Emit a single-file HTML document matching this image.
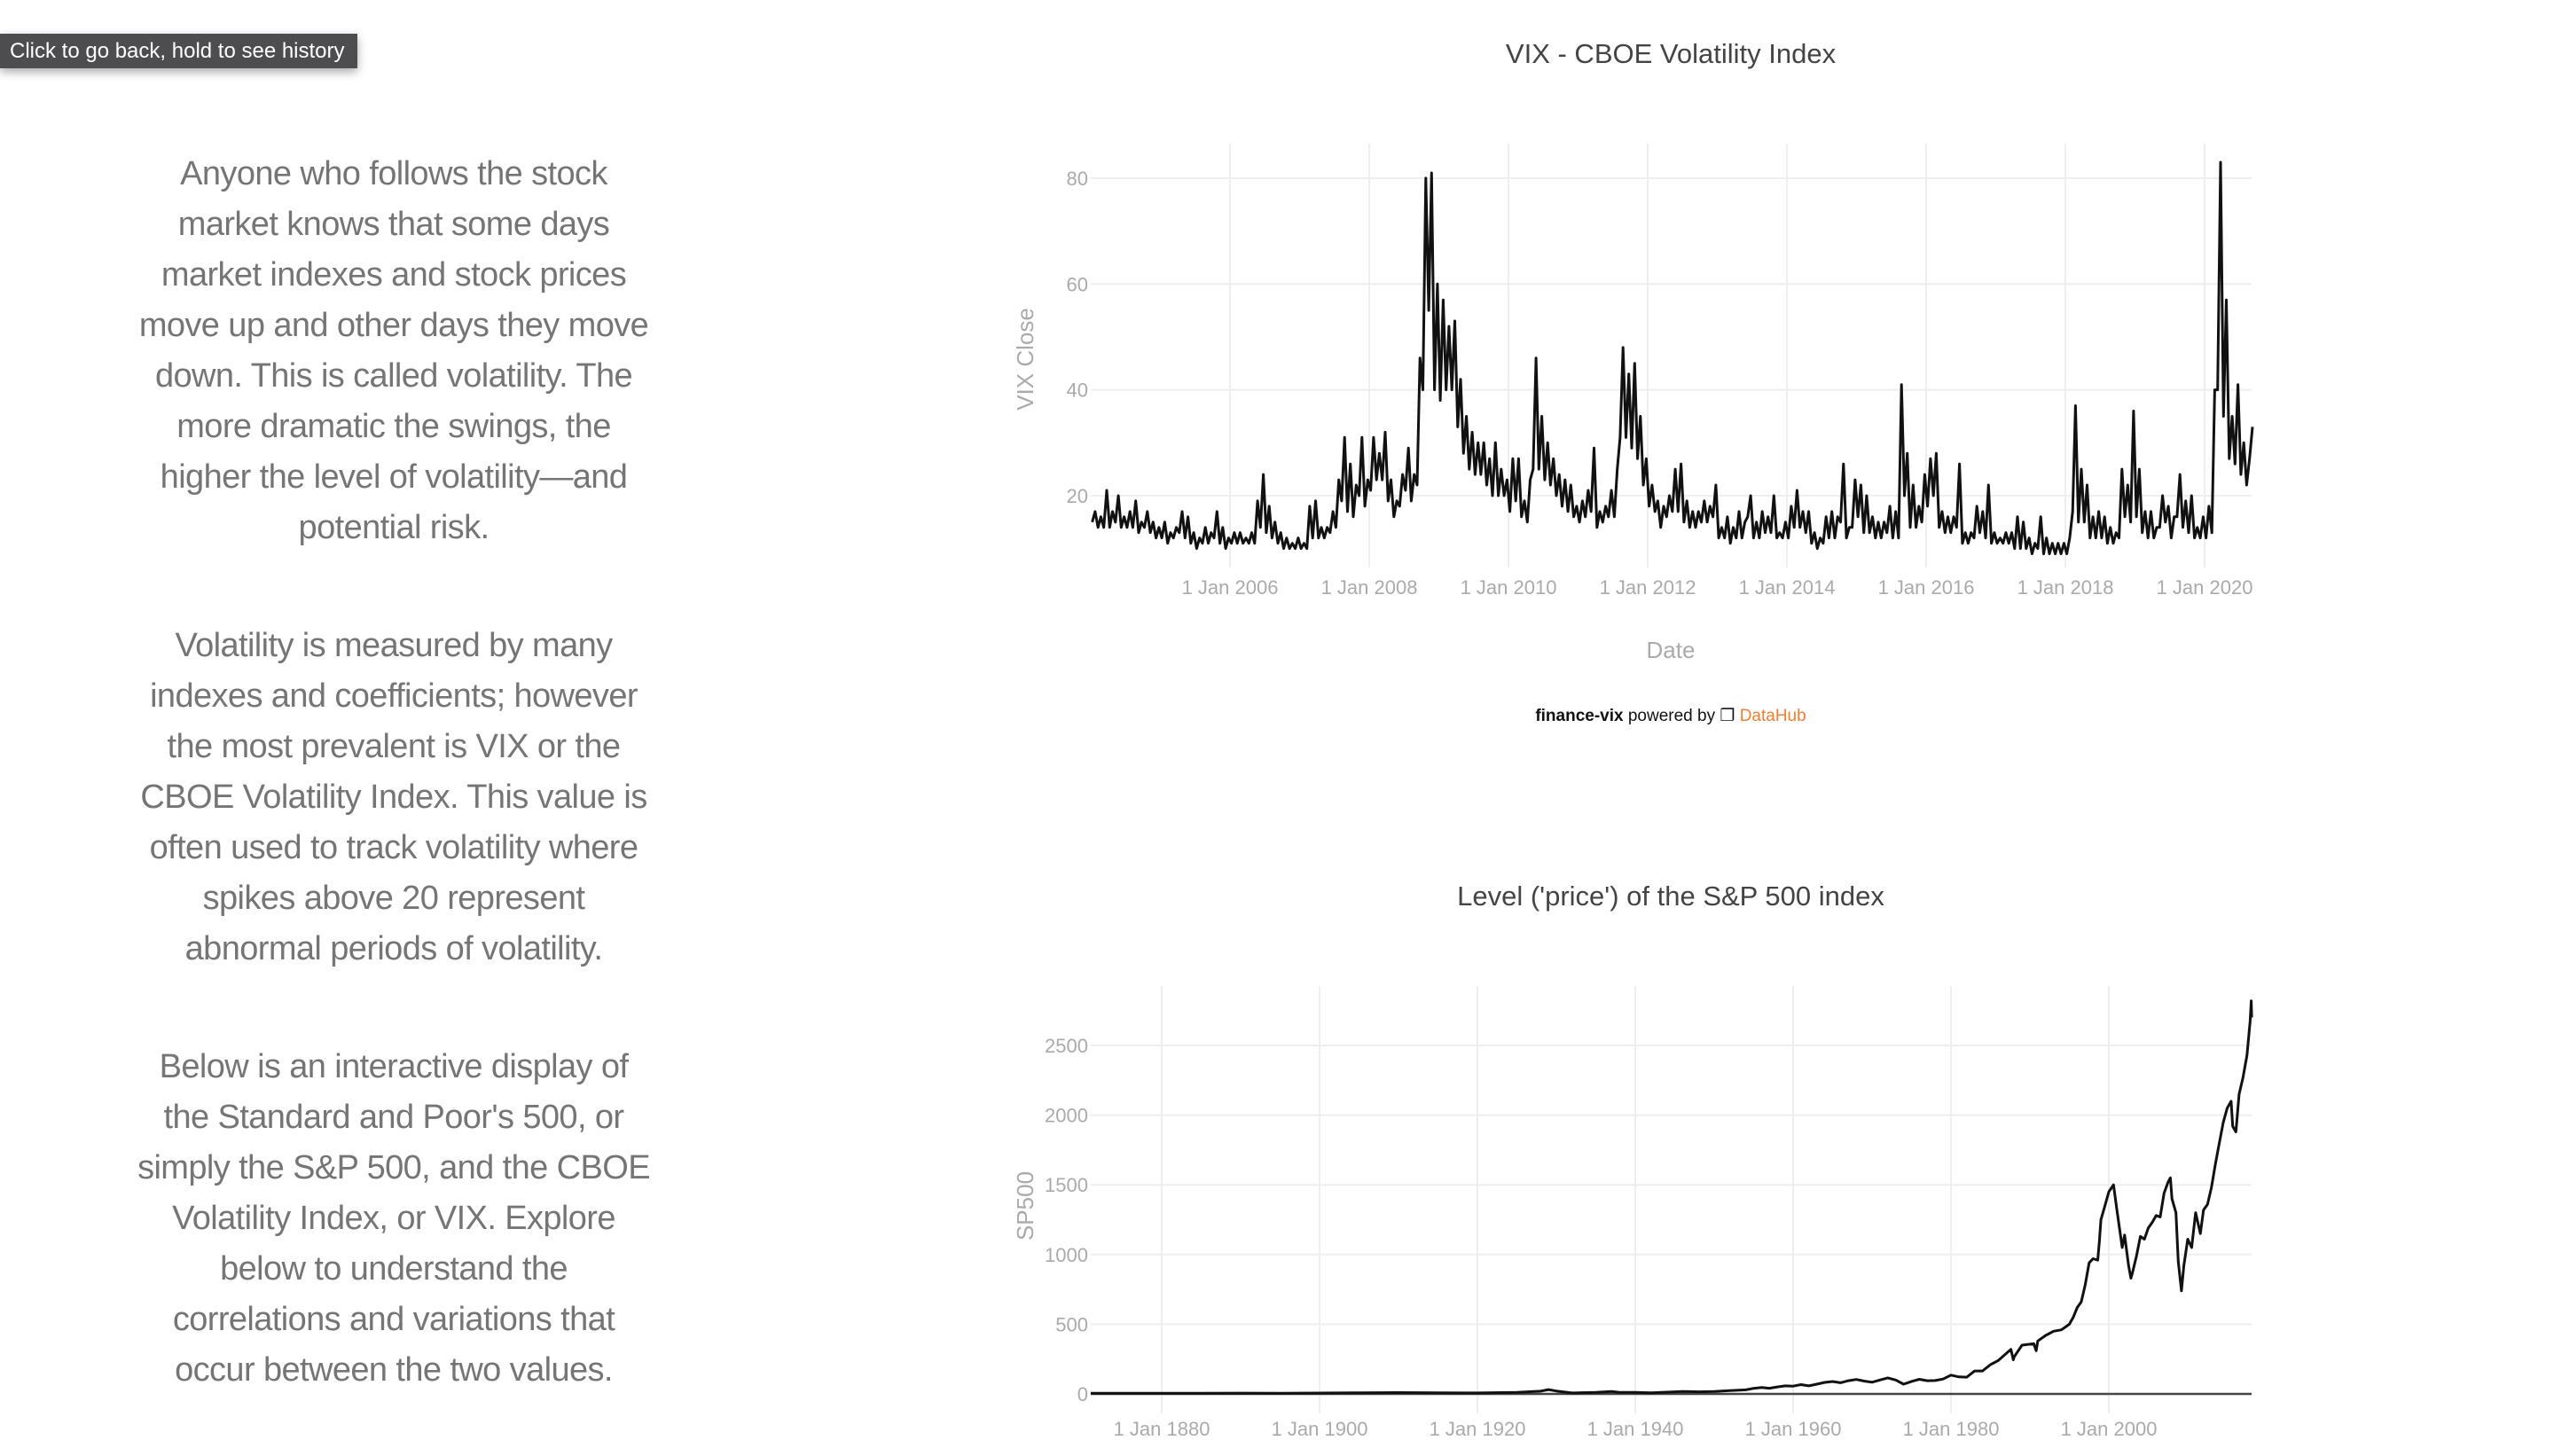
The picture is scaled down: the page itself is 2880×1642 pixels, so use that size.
<!DOCTYPE html>
<html><head><meta charset="utf-8">
<style>
html,body{margin:0;padding:0;background:#fff;width:2880px;height:1642px;overflow:hidden;font-family:"Liberation Sans",sans-serif}
.tip{position:absolute;left:0;top:38px;width:403px;height:39px;background:#4d4d4f;color:#fff;font-size:24px;line-height:39px;padding-left:11px;box-sizing:border-box;box-shadow:0 4px 10px rgba(0,0,0,.35)}
.para{position:absolute;left:94px;width:700px;text-align:center;color:#757575;font-size:38px;line-height:57px;letter-spacing:-0.6px}
svg{position:absolute;left:0;top:0}
</style></head><body>
<div class="tip">Click to go back, hold to see history</div>
<div class="para" style="top:168px">Anyone who follows the stock<br>market knows that some days<br>market indexes and stock prices<br>move up and other days they move<br>down. This is called volatility. The<br>more dramatic the swings, the<br>higher the level of volatility—and<br>potential risk.</div>
<div class="para" style="top:700px">Volatility is measured by many<br>indexes and coefficients; however<br>the most prevalent is VIX or the<br>CBOE Volatility Index. This value is<br>often used to track volatility where<br>spikes above 20 represent<br>abnormal periods of volatility.</div>
<div class="para" style="top:1175px">Below is an interactive display of<br>the Standard and Poor's 500, or<br>simply the S&amp;P 500, and the CBOE<br>Volatility Index, or VIX. Explore<br>below to understand the<br>correlations and variations that<br>occur between the two values.</div>

<svg id="chart" width="2880" height="1642">
<text x="1884" y="71" text-anchor="middle" font-size="31" fill="#444">VIX - CBOE Volatility Index</text>
<text x="1884" y="742" text-anchor="middle" font-size="26" fill="#aaa">Date</text>
<text x="1884" y="813" text-anchor="middle" font-size="19" fill="#111"><tspan font-weight="bold">finance-vix</tspan> powered by ❐ <tspan fill="#f07e2d">DataHub</tspan></text>
<text transform="translate(1165,405) rotate(-90)" text-anchor="middle" font-size="26" fill="#aaa">VIX Close</text>
<text x="1884" y="1021" text-anchor="middle" font-size="31" fill="#444">Level ('price') of the S&amp;P 500 index</text>
<text transform="translate(1165,1360) rotate(-90)" text-anchor="middle" font-size="26" fill="#aaa">SP500</text>
<g id="vixg"></g><g id="spg"></g>
</svg>
<script>
const vixYTicks=[20,40,60,80];
const vixXTicks=[2006,2008,2010,2012,2014,2016,2018,2020];
const vixStartYear=2004;
const vixMonthly=[
15,17,14,16,14,21,14,17,15,20,14,16,14,17,14,19,13,15,14,17,13,15,12,14,
12,15,11,13,12,14,13,17,12,16,11,13,10,12,11,14,11,13,12,17,11,14,10,12,
11,13,11,13,11,12,11,13,11,19,14,24,13,18,12,15,11,13,10,12,10,11,10,12,
10,11,10,18,12,19,12,14,12,14,13,17,14,23,19,31,17,26,16,22,20,31,18,23,
21,31,23,28,23,32,19,23,16,19,18,24,21,29,19,24,22,46,40,80,55,81,40,60,
38,57,40,52,40,53,33,42,28,35,25,32,24,30,24,30,22,27,20,30,20,25,20,23,
17,27,19,27,16,19,15,23,25,46,25,35,23,30,22,27,20,24,18,23,17,22,16,18,
15,19,16,21,17,29,14,17,15,18,16,21,16,25,31,48,31,43,29,45,27,35,22,27,
18,22,17,19,14,18,16,20,17,25,17,26,15,19,14,17,14,17,15,19,15,18,16,22,
12,14,12,16,11,14,12,17,12,15,16,20,12,15,12,17,13,16,13,20,12,13,12,15,
12,18,14,21,14,17,13,17,11,13,10,12,11,16,12,17,12,16,15,26,12,14,14,23,
16,22,13,20,13,16,12,15,12,15,13,18,12,17,12,41,20,28,14,22,14,18,15,24,
18,27,20,28,14,17,13,16,13,16,14,26,11,13,11,13,12,18,13,17,12,22,11,13,
11,12,11,13,11,13,10,16,10,15,10,12,9,11,10,16,9,12,9,11,9,11,9,11,
9,12,17,37,15,25,15,22,12,16,12,17,12,16,11,14,11,13,12,25,16,22,15,36,
16,25,13,17,12,17,12,14,14,20,15,18,12,16,16,24,14,19,13,20,12,14,12,16,
12,18,13,40,40,83,35,57,27,35,26,41,24,30,22,27,33];
const spYears=[1871,1875,1880,1885,1890,1895,1900,1905,1910,1915,1920,1925,1928,1929,1930,1932,1935,1937,1938,1940,1942,1945,1946,1948,1950,1952,1954,1955,1956,1957,1958,1959,1960,1961,1962,1963,1964,1965,1966,1967,1968,1969,1970,1971,1972,1973,1974,1975,1976,1977,1978,1979,1980,1981,1982,1983,1984,1985,1986,1987.6,1987.9,1988,1989,1990.5,1990.8,1991,1992,1993,1994,1995,1995.5,1996,1996.5,1997,1997.5,1998,1998.6,1998.8,1999,1999.5,2000,2000.6,2001,2001.7,2002,2002.5,2002.8,2003,2003.5,2004,2004.5,2005,2005.5,2006,2006.5,2007,2007.5,2007.8,2008,2008.5,2008.8,2009.2,2009.5,2010,2010.5,2011,2011.6,2012,2012.5,2013,2013.5,2014,2014.5,2015,2015.5,2015.7,2016.1,2016.5,2017,2017.5,2017.9,2018.05,2018.1];
const spValues=[4.4,4.6,5.3,5.0,5.5,5.0,6.1,8.5,9.6,8.0,7.0,11,20,31,21,6.9,11,17,11,11,8,15,18,15,17,24,29,40,46,41,50,58,56,67,58,70,83,89,80,95,104,92,84,100,115,100,70,90,105,95,96,107,135,122,120,165,165,210,240,320,245,265,350,360,310,380,420,450,460,500,550,620,660,780,940,970,960,1090,1250,1350,1450,1500,1330,1050,1140,920,830,870,990,1130,1110,1190,1230,1280,1270,1440,1520,1550,1400,1300,950,740,920,1110,1050,1300,1150,1320,1360,1480,1650,1800,1950,2050,2100,1920,1880,2150,2270,2430,2670,2820,2700];
const spYTicks=[0,500,1000,1500,2000,2500];
const spXTicks=[1880,1900,1920,1940,1960,1980,2000];

const NS="http://www.w3.org/2000/svg";
function mk(tag,attrs,parent){const e=document.createElementNS(NS,tag);for(const k in attrs)e.setAttribute(k,attrs[k]);parent.appendChild(e);return e;}
// VIX axes
const vx=y=>1387+(y-2006)*78.5;
const vy=v=>678.3-v*5.967;
const vg=document.getElementById('vixg');
vixXTicks.forEach(t=>{
  const l=mk('line',{x1:vx(t),x2:vx(t),y1:162,y2:640,stroke:'#eee','stroke-width':2},vg);
  
  
  const tx=mk('text',{x:vx(t),y:670,'text-anchor':'middle','font-size':22,fill:'#aaa'},vg);tx.textContent='1 Jan '+t;
  
  
});
vixYTicks.forEach(t=>{
  const l=mk('line',{x1:1230,x2:2539,y1:vy(t),y2:vy(t),stroke:'#eee','stroke-width':2},vg);
  
  
  const tx=mk('text',{x:1227,y:vy(t)+8,'text-anchor':'end','font-size':22,fill:'#aaa'},vg);tx.textContent=t;
  
  
});
let d='';
vixMonthly.forEach((v,i)=>{const yr=vixStartYear+(i*0.5+0.25)/12;d+=(i?'L':'M')+vx(yr).toFixed(1)+','+vy(v).toFixed(1);});
const vp=mk('path',{d:d,fill:'none',stroke:'#111','stroke-width':3,'stroke-linejoin':'round'},vg);


// SP500 axes
const sx=y=>1310+(y-1880)*8.9;
const sy=v=>1572-v*0.1572;
const sg=document.getElementById('spg');
spXTicks.forEach(t=>{
  const l=mk('line',{x1:sx(t),x2:sx(t),y1:1112,y2:1594,stroke:'#eee','stroke-width':2},sg);
  
  
  const tx=mk('text',{x:sx(t),y:1619,'text-anchor':'middle','font-size':22,fill:'#aaa'},sg);tx.textContent='1 Jan '+t;
  
  
});
spYTicks.forEach(t=>{
  const l=mk('line',{x1:1230,x2:2539,y1:sy(t),y2:sy(t),stroke:t===0?'#444':'#eee','stroke-width':t===0?2.5:2},sg);
  
  
  const tx=mk('text',{x:1227,y:sy(t)+8,'text-anchor':'end','font-size':22,fill:'#aaa'},sg);tx.textContent=t;
  
  
});
let d2='';
spYears.forEach((yr,i)=>{d2+=(i?'L':'M')+sx(yr).toFixed(1)+','+sy(spValues[i]).toFixed(1);});
const sp=mk('path',{d:d2,fill:'none',stroke:'#111','stroke-width':3,'stroke-linejoin':'round'},sg);


</script>
</body></html>
